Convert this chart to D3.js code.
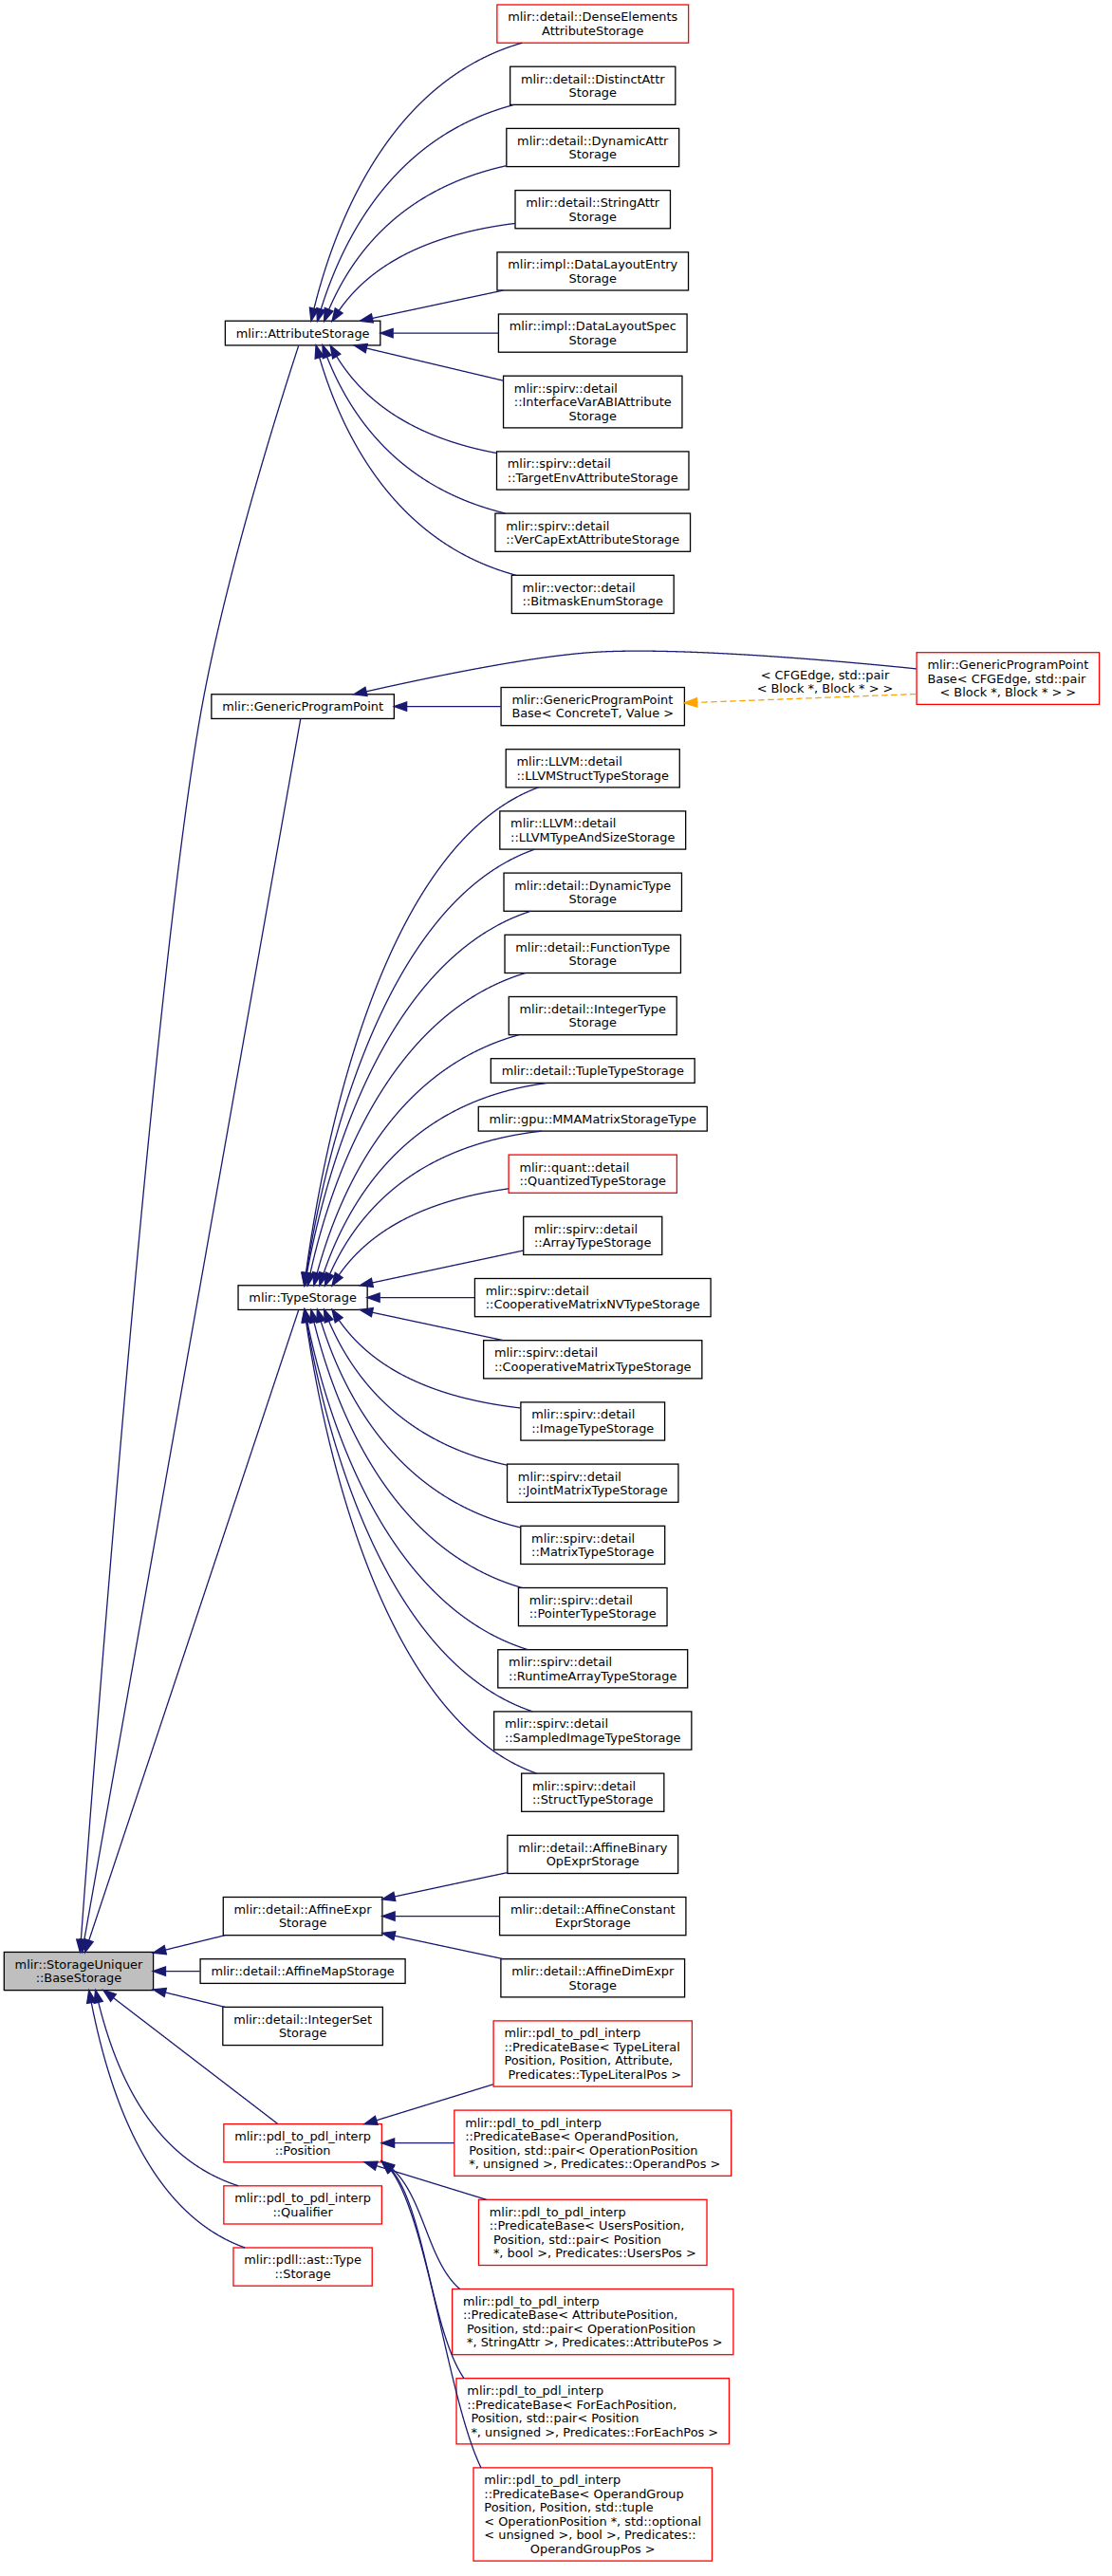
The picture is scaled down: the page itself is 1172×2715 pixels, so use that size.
<!DOCTYPE html>
<html>
<head>
<meta charset="utf-8">
<script src="https://cdn.jsdelivr.net/npm/d3@7"></script>
<style>
  html, body { margin: 0; padding: 0; background: #fff; }
  svg text { font-family: "DejaVu Sans", sans-serif; font-size: 12.9px; white-space: pre; fill: #000; }
</style>
</head>
<body>
<svg id="chart" width="1172" height="2715"></svg>
<script>
// inheritance graph of mlir::StorageUniquer::BaseStorage

const rootClass = "mlir::StorageUniquer\n::BaseStorage";

const baseSubclasses = [
  "mlir::AttributeStorage",
  "mlir::GenericProgramPoint",
  "mlir::TypeStorage",
  "mlir::detail::AffineExpr\nStorage",
  "mlir::detail::AffineMapStorage",
  "mlir::detail::IntegerSet\nStorage",
  "mlir::pdl_to_pdl_interp\n::Position",
  "mlir::pdl_to_pdl_interp\n::Qualifier",
  "mlir::pdll::ast::Type\n::Storage"
];

const attributeStorages = [
  "mlir::detail::DenseElements\nAttributeStorage",
  "mlir::detail::DistinctAttr\nStorage",
  "mlir::detail::DynamicAttr\nStorage",
  "mlir::detail::StringAttr\nStorage",
  "mlir::impl::DataLayoutEntry\nStorage",
  "mlir::impl::DataLayoutSpec\nStorage",
  "mlir::spirv::detail\n::InterfaceVarABIAttribute\nStorage",
  "mlir::spirv::detail\n::TargetEnvAttributeStorage",
  "mlir::spirv::detail\n::VerCapExtAttributeStorage",
  "mlir::vector::detail\n::BitmaskEnumStorage"
];

const programPointBases = [
  "mlir::GenericProgramPoint\nBase< ConcreteT, Value >"
];

const typeStorages = [
  "mlir::LLVM::detail\n::LLVMStructTypeStorage",
  "mlir::LLVM::detail\n::LLVMTypeAndSizeStorage",
  "mlir::detail::DynamicType\nStorage",
  "mlir::detail::FunctionType\nStorage",
  "mlir::detail::IntegerType\nStorage",
  "mlir::detail::TupleTypeStorage",
  "mlir::gpu::MMAMatrixStorageType",
  "mlir::quant::detail\n::QuantizedTypeStorage",
  "mlir::spirv::detail\n::ArrayTypeStorage",
  "mlir::spirv::detail\n::CooperativeMatrixNVTypeStorage",
  "mlir::spirv::detail\n::CooperativeMatrixTypeStorage",
  "mlir::spirv::detail\n::ImageTypeStorage",
  "mlir::spirv::detail\n::JointMatrixTypeStorage",
  "mlir::spirv::detail\n::MatrixTypeStorage",
  "mlir::spirv::detail\n::PointerTypeStorage",
  "mlir::spirv::detail\n::RuntimeArrayTypeStorage",
  "mlir::spirv::detail\n::SampledImageTypeStorage",
  "mlir::spirv::detail\n::StructTypeStorage"
];

const affineExprStorages = [
  "mlir::detail::AffineBinary\nOpExprStorage",
  "mlir::detail::AffineConstant\nExprStorage",
  "mlir::detail::AffineDimExpr\nStorage"
];

const positionPredicates = [
  "mlir::pdl_to_pdl_interp\n::PredicateBase< TypeLiteral\nPosition, Position, Attribute,\n Predicates::TypeLiteralPos >",
  "mlir::pdl_to_pdl_interp\n::PredicateBase< OperandPosition,\n Position, std::pair< OperationPosition\n *, unsigned >, Predicates::OperandPos >",
  "mlir::pdl_to_pdl_interp\n::PredicateBase< UsersPosition,\n Position, std::pair< Position\n *, bool >, Predicates::UsersPos >",
  "mlir::pdl_to_pdl_interp\n::PredicateBase< AttributePosition,\n Position, std::pair< OperationPosition\n *, StringAttr >, Predicates::AttributePos >",
  "mlir::pdl_to_pdl_interp\n::PredicateBase< ForEachPosition,\n Position, std::pair< Position\n *, unsigned >, Predicates::ForEachPos >",
  "mlir::pdl_to_pdl_interp\n::PredicateBase< OperandGroup\nPosition, Position, std::tuple\n< OperationPosition *, std::optional\n< unsigned >, bool >, Predicates::\nOperandGroupPos >"
];

// template instance of GenericProgramPointBase and its arguments
const cfgEdgeInstance = "mlir::GenericProgramPoint\nBase< CFGEdge, std::pair\n< Block *, Block * > >";
const cfgEdgeArgs = "< CFGEdge, std::pair\n< Block *, Block * > >";

// classes without documentation get a red frame
const undocumented = [
  "mlir::detail::DenseElements\nAttributeStorage",
  "mlir::quant::detail\n::QuantizedTypeStorage",
  "mlir::pdl_to_pdl_interp\n::Position",
  "mlir::pdl_to_pdl_interp\n::Qualifier",
  "mlir::pdll::ast::Type\n::Storage",
  cfgEdgeInstance
].concat(positionPredicates);

// which child a parent lines up with, when not the middle one
const alignOverride = new Map([["mlir::pdl_to_pdl_interp\n::Position", 1]]);

// ---------------------------------------------------------------------------
const LINE_H = 14.5, PAD_X = 11.3, PAD_Y = 11.2, GAP = 25, RANKSEP = 49.5;
const TOP = 5, LEFT = 4.3, ARROW_L = 13.4, ARROW_W = 4.7;

const svg = d3.select("#chart");
const stroke = d3.scaleOrdinal().domain(["doc", "undoc"]).range(["#000", "#ff0000"]);

const nodes = [];
function addNode(label, rank, parent) {
  const n = { label, rank, lines: label.split("\n"), children: [], parent };
  if (parent) parent.children.push(n);
  nodes.push(n);
  return n;
}

const root = addNode(rootClass, 0, null);
const level1 = baseSubclasses.map(l => addNode(l, 1, root));
const byLabel = new Map(level1.map(n => [n.label, n]));

const rank2 = [];
function addGroup(list, parentLabel) {
  list.forEach(l => rank2.push(addNode(l, 2, byLabel.get(parentLabel))));
}
addGroup(attributeStorages, "mlir::AttributeStorage");
// slot kept free in the third column for the edge from the template instance
const slot = { virtual: true, rank: 2, h: 28, lines: [] };
rank2.push(slot);
byLabel.get("mlir::GenericProgramPoint").children.push(slot);
addGroup(programPointBases, "mlir::GenericProgramPoint");
addGroup(typeStorages, "mlir::TypeStorage");
addGroup(affineExprStorages, "mlir::detail::AffineExpr\nStorage");
addGroup(positionPredicates, "mlir::pdl_to_pdl_interp\n::Position");

const concrete = rank2.find(n => n.label === programPointBases[0]);
const instance = { label: cfgEdgeInstance, rank: 3, lines: cfgEdgeInstance.split("\n"), children: [] };
nodes.push(instance);

// ---- measure text ----------------------------------------------------------
const meas = svg.append("text").attr("xml:space", "preserve");
function textWidth(s) { meas.text(s); return meas.node().getComputedTextLength(); }
nodes.forEach(n => {
  n.lineW = n.lines.map(textWidth);
  n.w = d3.max(n.lineW) + 2 * PAD_X;
  n.h = n.lines.length * LINE_H + PAD_Y;
});
const labelLines = cfgEdgeArgs.split("\n");
const labelW = d3.max(labelLines.map(textWidth));
meas.remove();

// ---- columns ---------------------------------------------------------------
const maxW = [0, 1, 2, 3].map(r => d3.max(nodes.filter(n => n.rank === r), n => n.w));
const colCenter = [];
colCenter[0] = LEFT + maxW[0] / 2;
colCenter[1] = colCenter[0] + maxW[0] / 2 + RANKSEP + maxW[1] / 2;
colCenter[2] = colCenter[1] + maxW[1] / 2 + RANKSEP + maxW[2] / 2;
colCenter[3] = colCenter[2] + maxW[2] / 2 + labelW + RANKSEP + maxW[3] / 2;
const colX = d3.scaleOrdinal().domain([0, 1, 2, 3]).range(colCenter);
const colLeft = r => colX(r) - maxW[r] / 2;
const colRight = r => colX(r) + maxW[r] / 2;

// ---- rows ------------------------------------------------------------------
let y = TOP;
rank2.forEach(n => { n.cy = y + n.h / 2; y += n.h + GAP; });
instance.cy = (slot.cy + concrete.cy) / 2;

let prevBottom = -Infinity;
level1.forEach(n => {
  if (n.children.length) {
    const k = alignOverride.has(n.label) ? alignOverride.get(n.label) : Math.floor(n.children.length / 2);
    n.cy = n.children[k].cy;
  } else {
    n.cy = prevBottom + GAP + n.h / 2;
  }
  prevBottom = n.cy + n.h / 2;
});
root.cy = root.children[Math.floor(root.children.length / 2)].cy;

nodes.forEach(n => {
  n.cx = colX(n.rank);
  n.left = n.cx - n.w / 2; n.right = n.cx + n.w / 2;
  n.top = n.cy - n.h / 2; n.bottom = n.cy + n.h / 2;
});

// neighbours in each column
[0, 1, 2, 3].forEach(r => {
  const col = nodes.filter(n => n.rank === r).sort((a, b) => a.cy - b.cy);
  col.forEach((n, i) => {
    n.prev = col[i - 1]; n.next = col[i + 1];
    n.winTop = n.prev ? n.prev.bottom : -Infinity;
    n.winBot = n.next ? n.next.top : Infinity;
  });
});

// ---- edge routing ----------------------------------------------------------
function route(c, p) {
  const C = [c.cx, c.cy], P = [p.cx, p.cy];
  if (Math.abs(c.cy - p.cy) < 0.5) return d3.line()([C, P]);
  const yAt = x => c.cy + (p.cy - c.cy) * (c.cx - x) / (c.cx - p.cx);
  const yc = yAt(colLeft(c.rank)), yp = yAt(colRight(p.rank));
  const tol = 10;
  if (yc >= c.winTop - tol && yc <= c.winBot + tol && yp >= p.winTop - tol && yp <= p.winBot + tol) {
    return d3.line()([C, P]);
  }
  const s = c.cy < p.cy ? 1 : -1;
  const nb = s > 0 ? c.next : c.prev;
  const tight = nb && (s > 0 ? nb.top - c.bottom : c.top - nb.bottom) < 40;
  if (!tight) {
    const W = [nb.left - 10, nb.cy];
    return d3.line().curve(d3.curveCatmullRom.alpha(0.5))([C, W, P]);
  }
  const pn = s > 0 ? p.prev : p.next;
  const pTight = pn && (s > 0 ? p.top - pn.bottom : pn.top - p.bottom) < 40;
  const dx = c.cx - p.cx, ady = Math.abs(c.cy - p.cy);
  const path = d3.path();
  if (pTight) {
    const y0 = s > 0 ? c.bottom : c.top;
    const y3 = s > 0 ? p.top + 2 : p.bottom - 2;
    const d = Math.abs(y3 - y0);
    path.moveTo(c.left + 8, y0);
    path.bezierCurveTo(c.left - 30, y0 + s * 0.24 * d, p.right + 44, y3 - s * 23, p.right - 2, y3);
  } else {
    const off = Math.max(0, 36 - 0.092 * ady);
    const y0 = c.cy + s * 10;
    path.moveTo(c.cx, y0);
    path.bezierCurveTo(colRight(p.rank) - 10, y0, p.cx + off + 0.07 * dx, p.cy - s * 0.32 * ady, p.cx + off, p.cy);
  }
  return path.toString();
}

const probe = svg.append("path").attr("fill", "none").attr("stroke", "none");
function sample(d) {
  probe.attr("d", d);
  const el = probe.node(), len = el.getTotalLength(), pts = [];
  for (let l = 0; l < len; l += 0.5) { const q = el.getPointAtLength(l); pts.push([q.x, q.y]); }
  const q = el.getPointAtLength(len); pts.push([q.x, q.y]);
  return pts;
}
const inside = (b, q) => q[0] > b.left && q[0] < b.right && q[1] > b.top && q[1] < b.bottom;
const insideIncl = (b, q) => q[0] >= b.left && q[0] <= b.right && q[1] >= b.top && q[1] <= b.bottom;

function clip(d, c, p) {
  const pts = sample(d);
  let i0 = pts.findIndex(q => !inside(c, q));
  if (i0 < 0) i0 = 0;
  let i1 = pts.findIndex((q, i) => i > i0 && insideIncl(p, q));
  if (i1 < 0) i1 = pts.length - 1;
  const tip = pts[i1];
  let j = i1;
  while (j > i0 && Math.hypot(pts[j][0] - tip[0], pts[j][1] - tip[1]) < ARROW_L) j--;
  return { line: pts.slice(i0, j + 1), tip, base: pts[j] };
}

function arrowPoints(tip, base) {
  const dx = tip[0] - base[0], dy = tip[1] - base[1], L = Math.hypot(dx, dy) || 1;
  const ux = dx / L, uy = dy / L;
  const b = [tip[0] - ux * ARROW_L, tip[1] - uy * ARROW_L];
  return [tip, [b[0] - uy * ARROW_W, b[1] + ux * ARROW_W], [b[0] + uy * ARROW_W, b[1] - ux * ARROW_W]];
}

// ---- nodes -----------------------------------------------------------------
const boxes = nodes.filter(n => !n.virtual);
const g = svg.selectAll("g.node").data(boxes).join("g").attr("class", "node");
g.append("rect")
  .attr("x", n => n.left).attr("y", n => n.top)
  .attr("width", n => n.w).attr("height", n => n.h)
  .attr("fill", n => n === root ? "#bfbfbf" : "#fff")
  .attr("stroke", n => stroke(undocumented.includes(n.label) ? "undoc" : "doc"))
  .attr("stroke-width", 1.3);
g.each(function (n) {
  const last = n.lines.length - 1;
  d3.select(this).selectAll("text").data(n.lines).join("text")
    .attr("xml:space", "preserve")
    .attr("x", (l, i) => (i === last ? n.cx : n.left + PAD_X))
    .attr("text-anchor", (l, i) => (i === last ? "middle" : "start"))
    .attr("y", (l, i) => n.cy + (i - last / 2) * LINE_H + 4.6)
    .text(l => l);
});

// ---- edges -----------------------------------------------------------------
const edges = [];
nodes.forEach(n => n.children.forEach(c => { if (!c.virtual) edges.push({ c, p: n }); }));

const edgeLayer = svg.append("g");
function drawEdge(geom, color, dash) {
  edgeLayer.append("path")
    .attr("d", d3.line()(geom.line))
    .attr("fill", "none").attr("stroke", color).attr("stroke-width", 1.3)
    .attr("stroke-dasharray", dash || null);
  edgeLayer.append("polygon")
    .attr("points", arrowPoints(geom.tip, geom.base).map(q => q.join(",")).join(" "))
    .attr("fill", color).attr("stroke", color).attr("stroke-width", 1.3);
}

edges.forEach(e => drawEdge(clip(route(e.c, e.p), e.c, e.p), "#191970"));

// template instance -> GenericProgramPoint, passing through the free slot
const gpp = byLabel.get("mlir::GenericProgramPoint");
const viaSlot = d3.line().curve(d3.curveCatmullRom.alpha(0.5))([
  [instance.left + 1, instance.cy - 10],
  [colX(2), slot.cy + 2],
  [gpp.cx, gpp.cy]
]);
drawEdge(clip(viaSlot, instance, gpp), "#191970");

// dashed template edge with its arguments as label
const dashStart = [instance.left + 1, instance.cy + 0.3 * instance.h];
const dashed = clip(d3.line()([dashStart, [concrete.cx, concrete.cy]]), instance, concrete);
drawEdge(dashed, "#ffa500", "6.5,3.5");

const midY = (dashed.line[0][1] + dashed.tip[1]) / 2;
const labelX = (colRight(2) + instance.left) / 2;
svg.append("g").selectAll("text").data(labelLines).join("text")
  .attr("xml:space", "preserve")
  .attr("x", labelX).attr("text-anchor", "middle")
  .attr("y", (l, i) => midY - 18 + (i - 0.5) * LINE_H + 4.6)
  .text(l => l);

probe.remove();
</script>
</body>
</html>
